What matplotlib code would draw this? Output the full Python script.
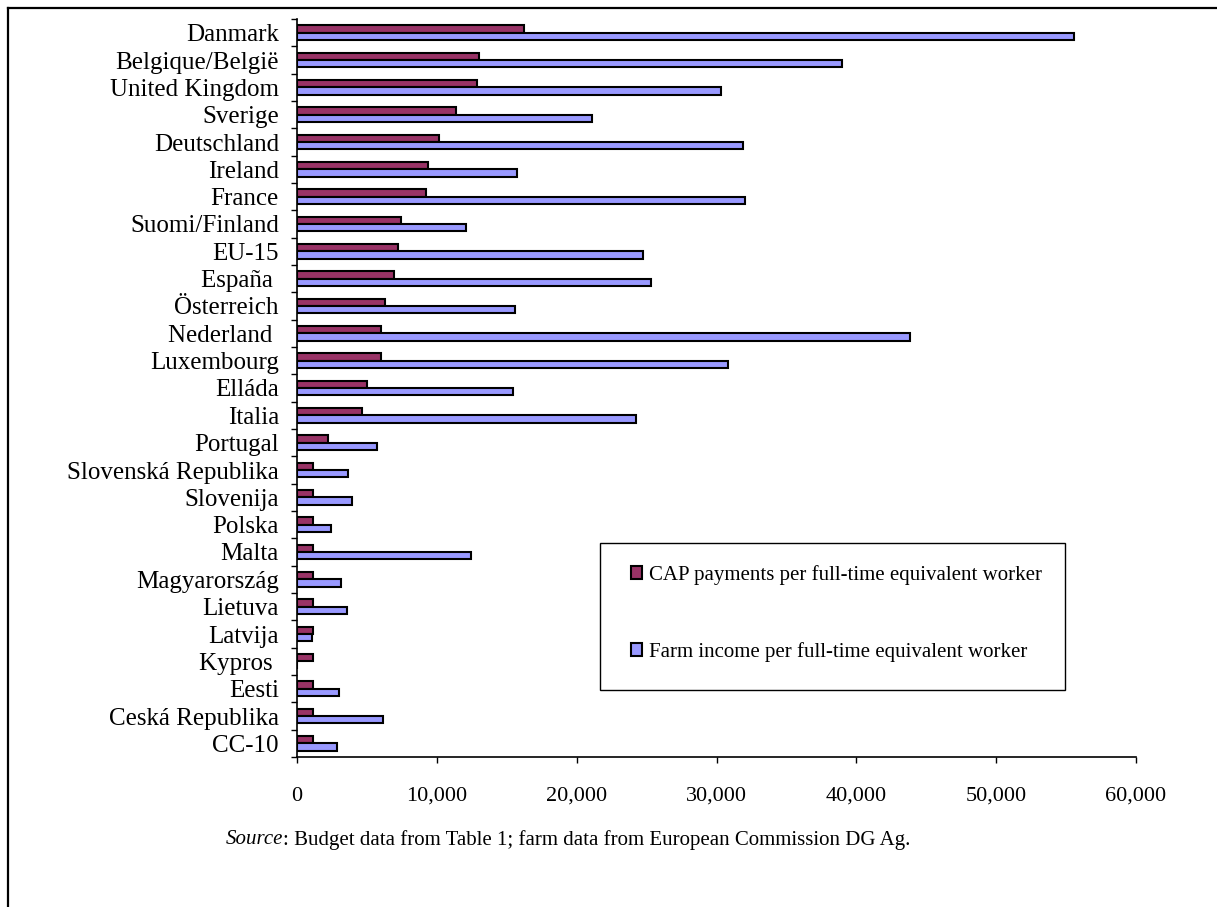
import matplotlib
matplotlib.use("Agg")
import matplotlib.pyplot as plt
from matplotlib.lines import Line2D
from matplotlib.patches import Patch, Rectangle
from matplotlib.ticker import FuncFormatter
import numpy as np

plt.rcParams['font.family'] = ['Liberation Serif', 'DejaVu Serif']

countries = ['Danmark', 'Belgique/België', 'United Kingdom', 'Sverige', 'Deutschland',
             'Ireland', 'France', 'Suomi/Finland', 'EU-15', 'España ', 'Österreich',
             'Nederland ', 'Luxembourg', 'Elláda', 'Italia', 'Portugal',
             'Slovenská Republika', 'Slovenija', 'Polska', 'Malta', 'Magyarország',
             'Lietuva', 'Latvija', 'Kypros ', 'Eesti', 'Ceská Republika', 'CC-10']

cap_payments = [16240, 13020, 12880, 11370, 10160, 9370, 9230, 7440, 7220, 6940, 6290,
                6000, 6000, 5010, 4630, 2200, 1150, 1150, 1150, 1150, 1150,
                1150, 1150, 1150, 1150, 1150, 1150]
farm_income = [55580, 38980, 30330, 21100, 31900, 15740, 32050, 12090, 24750, 25320, 15590,
               43850, 30830, 15450, 24250, 5720, 3650, 3930, 2430, 12450, 3150,
               3580, 1070, 0, 3000, 6150, 2860]

x_ticks = [0, 10000, 20000, 30000, 40000, 50000, 60000]

cap_color = '#993366'
farm_color = '#9999FF'

W, H = 1217, 907
fig = plt.figure(figsize=(W / 100, H / 100), dpi=100)
ax = fig.add_axes([297 / W, 1 - 757 / H, (1136 - 297) / W, (757 - 19) / H])

y = np.arange(len(countries))
bh = 0.27
ax.barh(y - bh / 2, cap_payments, height=bh, color=cap_color, edgecolor='black',
        linewidth=1.5)
ax.barh(y + bh / 2, farm_income, height=bh, color=farm_color, edgecolor='black',
        linewidth=1.5)

ax.set_xlim(0, 60000)
ax.set_ylim(len(countries) - 0.5, -0.5)

ax.set_yticks(y)
ax.set_yticklabels(countries, fontsize=18)
ax.set_yticks(np.arange(len(countries) + 1) - 0.5, minor=True)
ax.tick_params(axis='y', which='major', length=0, pad=13)
ax.tick_params(axis='y', which='minor', length=4.5, width=1, color='black')

ax.set_xticks(x_ticks)
ax.xaxis.set_major_formatter(FuncFormatter(lambda v, p: f'{int(v):,}'))
ax.tick_params(axis='x', length=4.5, width=1, pad=17, labelsize=16)

for s in ['top', 'right']:
    ax.spines[s].set_visible(False)
for s in ['left', 'bottom']:
    ax.spines[s].set_linewidth(1.2)
    ax.spines[s].set_color('black')

# legend: entries without frame, box drawn separately
handles = [Patch(facecolor=cap_color, edgecolor='black', linewidth=1.5),
           Patch(facecolor=farm_color, edgecolor='black', linewidth=1.5)]
labels = ['CAP payments per full-time equivalent worker',
          'Farm income per full-time equivalent worker']
fig.legend(handles, labels, loc='upper left',
           bbox_to_anchor=(631 / W, 1 - 565 / H),
           fontsize=15, frameon=False, handlelength=0.55, handleheight=0.55,
           handletextpad=0.3, labelspacing=2.75, borderpad=0, borderaxespad=0)
fig.add_artist(Rectangle((600 / W, 1 - 690 / H), (1065 - 600) / W, (690 - 543) / H,
                         transform=fig.transFigure, facecolor='none',
                         edgecolor='black', linewidth=1.0))

t1 = fig.text(226 / W, 1 - 840 / H, 'Source', fontsize=15, style='italic',
              ha='left', va='center')
fig.canvas.draw()
bb = t1.get_window_extent()
fig.text(bb.x1 / W, 1 - 840 / H,
         ': Budget data from Table 1; farm data from European Commission DG Ag.',
         fontsize=15, ha='left', va='center')

# outer frame (clipped on the right and bottom)
fig.add_artist(Line2D([8 / W, 1.0], [1 - 8 / H, 1 - 8 / H], color='black', lw=1.6))
fig.add_artist(Line2D([8 / W, 8 / W], [0, 1 - 8 / H], color='black', lw=1.6))

fig.savefig('out.png', dpi=100)
